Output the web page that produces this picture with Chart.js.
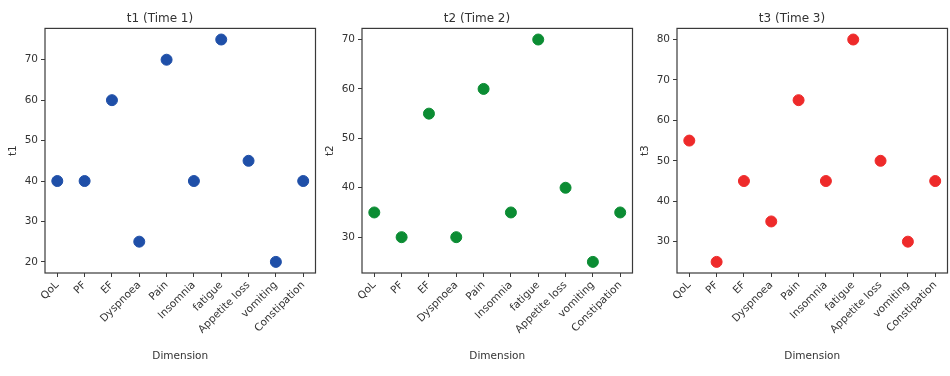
<!DOCTYPE html>
<html>
<head>
<meta charset="utf-8">
<script src="https://cdn.jsdelivr.net/npm/chart.js@4"></script>
<style>
  body { margin: 0; background: #fff; }
  .panel { position: absolute; top: 0; width: 322px; height: 376px; }
</style>
</head>
<body>
<div class="panel" style="left:0px"><canvas id="Chart1"></canvas></div>
<div class="panel" style="left:317px"><canvas id="Chart2"></canvas></div>
<div class="panel" style="left:632px"><canvas id="Chart3"></canvas></div>
<script>
var dimensions = ["QoL", "PF", "EF", "Dyspnoea", "Pain", "Insomnia", "fatigue", "Appetite loss", "vomiting", "Constipation"];
var t1 = [40, 40, 60, 25, 70, 40, 75, 45, 20, 40];
var t2 = [35, 30, 55, 30, 60, 35, 70, 40, 25, 35];
var t3 = [55, 25, 45, 35, 65, 45, 80, 50, 30, 45];
var yTicks1 = [20, 30, 40, 50, 60, 70];
var yTicks2 = [30, 40, 50, 60, 70];
var yTicks3 = [30, 40, 50, 60, 70, 80];

var axisColor = "#3a3a3a";
var textColor = "#333";
var fontFamily = "'DejaVu Sans', sans-serif";

// draw the full box round the plot area (matplotlib spines)
var frame = {
    id: "frame",
    afterDraw: function(chart){
        var a = chart.chartArea, ctx = chart.ctx;
        ctx.save();
        ctx.strokeStyle = axisColor;
        ctx.lineWidth = 1.2;
        ctx.strokeRect(a.left, a.top, a.right - a.left, a.bottom - a.top);
        ctx.restore();
    }
};

function makeChart(id, title, yLabel, values, yTicks, color){
    var lo = Math.min.apply(null, values), hi = Math.max.apply(null, values);
    var m = (hi - lo) * 0.05;
    var points = values.map(function(v, i){ return {x: i, y: v}; });
    var ctx = document.getElementById(id).getContext("2d");
    return new Chart(ctx, {
        type: "scatter",
        data: {
            datasets: [{
                label: yLabel,
                data: points,
                backgroundColor: color,
                borderColor: color,
                pointRadius: 5.5,
                pointHoverRadius: 5.5
            }]
        },
        plugins: [frame],
        options: {
            responsive: false,
            animation: false,
            layout: { padding: { left: 0, right: 2, top: 4, bottom: 6 } },
            plugins: {
                legend: { display: false },
                tooltip: { enabled: false },
                title: {
                    display: true,
                    text: title,
                    color: textColor,
                    font: { family: fontFamily, size: 12, weight: "normal" },
                    padding: { top: 8, bottom: 2 }
                }
            },
            scales: {
                x: {
                    type: "linear",
                    min: -0.45,
                    max: dimensions.length - 1 + 0.45,
                    afterBuildTicks: function(scale){
                        scale.ticks = dimensions.map(function(d, i){ return {value: i}; });
                    },
                    afterFit: function(scale){ scale.height = 97; },
                    ticks: {
                        autoSkip: false,
                        minRotation: 45,
                        maxRotation: 45,
                        color: textColor,
                        padding: 2,
                        font: { family: fontFamily, size: 10.5 },
                        callback: function(v){ return dimensions[v]; }
                    },
                    grid: { drawOnChartArea: false, drawTicks: true, tickLength: 4, color: axisColor },
                    border: { display: false },
                    title: {
                        display: true,
                        text: "Dimension",
                        color: textColor,
                        font: { family: fontFamily, size: 10.5 },
                        padding: { top: 0, bottom: 7 }
                    }
                },
                y: {
                    min: lo - m,
                    max: hi + m,
                    afterBuildTicks: function(scale){
                        scale.ticks = yTicks.map(function(v){ return {value: v}; });
                    },
                    afterFit: function(scale){ scale.width = 45; },
                    ticks: {
                        color: textColor,
                        padding: 3,
                        font: { family: fontFamily, size: 10.5 }
                    },
                    grid: { drawOnChartArea: false, drawTicks: true, tickLength: 4, color: axisColor },
                    border: { display: false },
                    title: {
                        display: true,
                        text: yLabel,
                        color: textColor,
                        font: { family: fontFamily, size: 10.5 },
                        padding: { top: 7, bottom: 0 }
                    }
                }
            }
        }
    });
}

function sizeCanvas(id){
    var c = document.getElementById(id);
    c.width = 322; c.height = 376;
    c.style.width = "322px"; c.style.height = "376px";
}
sizeCanvas("Chart1"); sizeCanvas("Chart2"); sizeCanvas("Chart3");

makeChart("Chart1", "t1 (Time 1)", "t1", t1, yTicks1, "#1f4fa8");
makeChart("Chart2", "t2 (Time 2)", "t2", t2, yTicks2, "#0b8c33");
makeChart("Chart3", "t3 (Time 3)", "t3", t3, yTicks3, "#ee2a2a");
</script>
</body>
</html>
